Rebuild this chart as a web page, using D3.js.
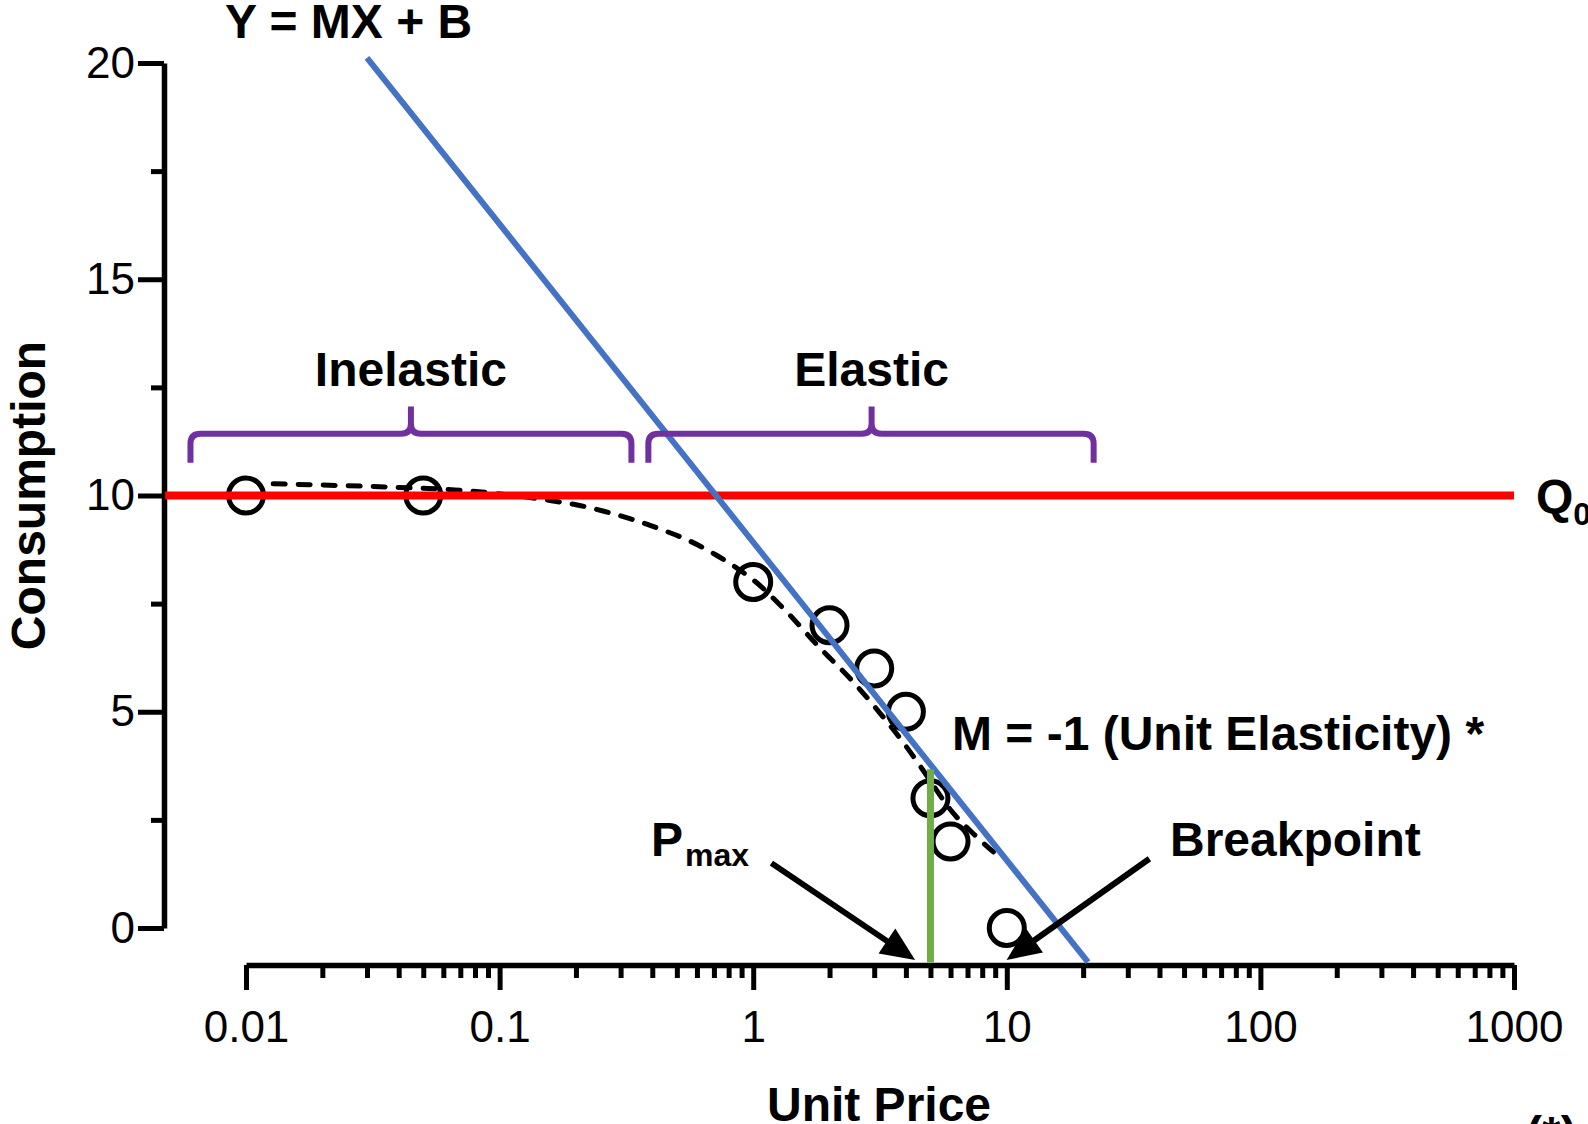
<!DOCTYPE html>
<html>
<head>
<meta charset="utf-8">
<script src="https://cdn.jsdelivr.net/npm/d3@7"></script>
<style>
  body { margin: 0; background: #fff; }
  svg { display: block; font-family: "Liberation Sans", Arial, sans-serif; }
</style>
</head>
<body>
<svg></svg>
<script>
// Data
const priceTicks = [0.01, 0.1, 1, 10, 100, 1000];
const priceTickLabels = ["0.01", "0.1", "1", "10", "100", "1000"];
const consumptionTicks = [0, 5, 10, 15, 20];
const consumptionMinor = [2.5, 7.5, 12.5, 17.5];

// observed points (circles)
const obsPrice = [0.01, 0.05, 1, 2, 3, 4, 5, 6, 10];
const obsConsumption = [10, 10, 8, 7, 6, 5, 3, 2, 0];

// fitted demand curve (dashed)
const fitPrice = [0.0128, 0.0384, 0.0667, 0.0923, 0.16, 0.207, 0.26, 0.337, 0.436, 0.566, 0.711, 0.863, 1.0, 1.31, 1.83, 2.4, 3.16, 4.02, 4.61, 6.14, 7.6, 9.6];
const fitConsumption = [10.27, 10.19, 10.13, 10.06, 9.88, 9.77, 9.63, 9.44, 9.21, 8.94, 8.63, 8.32, 8.05, 7.40, 6.48, 5.78, 4.97, 4.19, 3.70, 2.66, 2.11, 1.58];

// Q0 line, tangent line Y = MX + B, Pmax marker
const q0Value = 10;
const q0Price = [0.0048, 1000];
const tangentPrice = [0.03, 20.9];
const tangentConsumption = [20.12, -0.79];
const pmaxPrice = 5;
const pmaxConsumption = [-0.8, 3.67];

// braces
const braceLabels = ["Inelastic", "Elastic"];
const braceStart = [0.00604, 0.386];
const braceMid = [0.0447, 2.93];
const braceEnd = [0.331, 22.0];

// arrows [price, consumption]
const arrowFrom = [[1.18, 1.5], [36.5, 1.6]];
const arrowTo = [[4.35, -0.74], [9.98, -0.74]];

const width = 1588;
const height = 1124;

const svg = d3.select("svg")
    .attr("width", width)
    .attr("height", height)
    .attr("viewBox", [0, 0, width, height]);

svg.append("rect").attr("width", width).attr("height", height).attr("fill", "#fff");

const x = d3.scaleLog([0.01, 1000], [246, 1514]);
const y = d3.scaleLinear([0, 20], [928, 63]);
const yAxisX = 164;
const xAxisY = 965;

// Y axis
svg.append("g")
    .attr("transform", `translate(${yAxisX},0)`)
    .call(d3.axisLeft(y).tickValues(consumptionMinor).tickSize(13).tickSizeOuter(0).tickFormat(""))
    .call(g => g.select(".domain").remove())
    .call(g => g.selectAll(".tick line").attr("stroke", "#000").attr("stroke-width", 5));

svg.append("g")
    .attr("transform", `translate(${yAxisX},0)`)
    .call(d3.axisLeft(y).tickValues(consumptionTicks).tickSize(26).tickSizeOuter(0).tickPadding(3))
    .call(g => g.select(".domain").attr("stroke", "#000").attr("stroke-width", 5.5))
    .call(g => g.selectAll(".tick line").attr("stroke", "#000").attr("stroke-width", 5))
    .call(g => g.selectAll(".tick text").attr("font-size", 44).attr("fill", "#000"));

// X axis
const minorPrice = x.ticks().filter(v => !priceTicks.some(p => Math.abs(p - v) / p < 1e-6));
svg.append("g")
    .attr("transform", `translate(0,${xAxisY})`)
    .call(d3.axisBottom(x).tickValues(minorPrice).tickSize(13).tickSizeOuter(0).tickFormat(""))
    .call(g => g.select(".domain").remove())
    .call(g => g.selectAll(".tick line").attr("stroke", "#000").attr("stroke-width", 5));

svg.append("g")
    .attr("transform", `translate(0,${xAxisY})`)
    .call(d3.axisBottom(x).tickValues(priceTicks).tickSize(25).tickSizeOuter(0).tickPadding(21)
        .tickFormat((d, i) => priceTickLabels[i]))
    .call(g => g.select(".domain").attr("stroke", "#000").attr("stroke-width", 5.5))
    .call(g => g.selectAll(".tick line").attr("stroke", "#000").attr("stroke-width", 5))
    .call(g => g.selectAll(".tick text").attr("font-size", 44).attr("fill", "#000"));

// axis titles
svg.append("text")
    .attr("transform", `translate(45,${(y(0) + y(20)) / 2}) rotate(-90)`)
    .attr("text-anchor", "middle")
    .attr("font-size", 48).attr("font-weight", "bold")
    .text("Consumption");

svg.append("text")
    .attr("x", 879).attr("y", 1121)
    .attr("text-anchor", "middle")
    .attr("font-size", 48).attr("font-weight", "bold")
    .text("Unit Price");

svg.append("text")
    .attr("x", 1526).attr("y", 1150)
    .attr("font-size", 48).attr("font-weight", "bold")
    .text("(*)");

// fitted curve
const fit = fitPrice.map((p, i) => [p, fitConsumption[i]]);
svg.append("path")
    .datum(fit)
    .attr("fill", "none")
    .attr("stroke", "#000")
    .attr("stroke-width", 5)
    .attr("stroke-dasharray", "12,13")
    .attr("stroke-linecap", "round")
    .attr("d", d3.line().x(d => x(d[0])).y(d => y(d[1])).curve(d3.curveMonotoneX));

// observed circles
svg.append("g")
    .selectAll("circle")
    .data(obsPrice.map((p, i) => [p, obsConsumption[i]]))
    .join("circle")
    .attr("cx", d => x(d[0]))
    .attr("cy", d => y(d[1]))
    .attr("r", 17.5)
    .attr("fill", "none")
    .attr("stroke", "#000")
    .attr("stroke-width", 5);

// Q0 line
svg.append("line")
    .attr("x1", x(q0Price[0])).attr("x2", x(q0Price[1]))
    .attr("y1", y(q0Value)).attr("y2", y(q0Value))
    .attr("stroke", "#ff0000").attr("stroke-width", 8);

svg.append("text")
    .attr("x", 1536).attr("y", y(q0Value) + 17)
    .attr("font-size", 48).attr("font-weight", "bold")
    .text("Q")
    .append("tspan").attr("font-size", 32).attr("dy", 12).text("0");

// tangent line
svg.append("line")
    .attr("x1", x(tangentPrice[0])).attr("y1", y(tangentConsumption[0]))
    .attr("x2", x(tangentPrice[1])).attr("y2", y(tangentConsumption[1]))
    .attr("stroke", "#4472c4").attr("stroke-width", 6);

svg.append("text")
    .attr("x", 225).attr("y", 38)
    .attr("font-size", 48).attr("font-weight", "bold")
    .text("Y = MX + B");

// Pmax vertical
svg.append("line")
    .attr("x1", x(pmaxPrice)).attr("x2", x(pmaxPrice))
    .attr("y1", y(pmaxConsumption[0])).attr("y2", y(pmaxConsumption[1]))
    .attr("stroke", "#70ad47").attr("stroke-width", 7);

svg.append("text")
    .attr("x", 952).attr("y", 750)
    .attr("font-size", 48).attr("font-weight", "bold")
    .text("M = -1 (Unit Elasticity) *");

svg.append("text")
    .attr("x", 651).attr("y", 856)
    .attr("font-size", 48).attr("font-weight", "bold")
    .text("P")
    .append("tspan").attr("font-size", 32).attr("dy", 10).attr("dx", 2).text("max");

svg.append("text")
    .attr("x", 1170).attr("y", 856)
    .attr("font-size", 48).attr("font-weight", "bold")
    .text("Breakpoint");

// braces
const yTop = y(11.43), yEndB = y(10.76), yTip = y(12.06), r = 10;
braceLabels.forEach((label, i) => {
  const x0 = x(braceStart[i]), xm = x(braceMid[i]), x1 = x(braceEnd[i]);
  const p = d3.path();
  p.moveTo(x0, yEndB);
  p.lineTo(x0, yTop + r);
  p.quadraticCurveTo(x0, yTop, x0 + r, yTop);
  p.lineTo(xm - r, yTop);
  p.quadraticCurveTo(xm, yTop, xm, yTop - r);
  p.lineTo(xm, yTip);
  p.moveTo(xm, yTop - r);
  p.quadraticCurveTo(xm, yTop, xm + r, yTop);
  p.lineTo(x1 - r, yTop);
  p.quadraticCurveTo(x1, yTop, x1, yTop + r);
  p.lineTo(x1, yEndB);
  svg.append("path")
      .attr("d", p.toString())
      .attr("fill", "none")
      .attr("stroke", "#7030a0")
      .attr("stroke-width", 6);
  svg.append("text")
      .attr("x", xm).attr("y", 386)
      .attr("text-anchor", "middle")
      .attr("font-size", 48).attr("font-weight", "bold")
      .text(label);
});

// arrows
arrowFrom.forEach((a, i) => {
  const sx = x(a[0]), sy = y(a[1]);
  const tx = x(arrowTo[i][0]), ty = y(arrowTo[i][1]);
  const ang = Math.atan2(ty - sy, tx - sx);
  const hl = 34, hw = 15;
  const bx = tx - hl * Math.cos(ang), by = ty - hl * Math.sin(ang);
  svg.append("line")
      .attr("x1", sx).attr("y1", sy).attr("x2", bx + 2 * Math.cos(ang)).attr("y2", by + 2 * Math.sin(ang))
      .attr("stroke", "#000").attr("stroke-width", 6);
  svg.append("path")
      .attr("d", `M${tx},${ty}L${bx - hw * Math.sin(ang)},${by + hw * Math.cos(ang)}L${bx + hw * Math.sin(ang)},${by - hw * Math.cos(ang)}Z`)
      .attr("fill", "#000");
});
</script>
</body>
</html>
